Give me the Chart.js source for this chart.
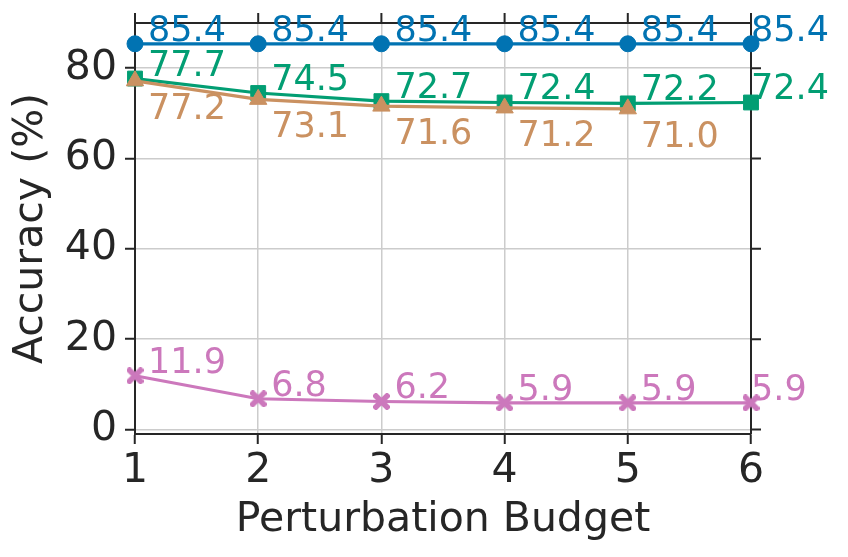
<!DOCTYPE html>
<html><head><meta charset="utf-8">
<script src="https://cdn.jsdelivr.net/npm/chart.js@4"></script>
<style>html,body{margin:0;padding:0;background:#fff}</style>
</head><body>
<canvas id="c" width="848" height="557" style="width:848px;height:557px;display:block"></canvas>
<script>
// ---- data ----
const budgets = ['1', '2', '3', '4', '5', '6'];
const blueSeries  = [85.4, 85.4, 85.4, 85.4, 85.4, 85.4];
const greenSeries = [77.7, 74.5, 72.7, 72.4, 72.2, 72.4];
const tanSeries   = [77.2, 73.1, 71.6, 71.2, 71.0];
const pinkSeries  = [11.9, 6.8, 6.2, 5.9, 5.9, 5.9];
const yTickValues = [0, 20, 40, 60, 80];
const xTitle = 'Perturbation Budget';
const yTitle = 'Accuracy (%)';

const FONT = '"DejaVu Sans", sans-serif';
const INK = '#262626';
const GRID = '#cccccc';
const C_BLUE = '#0173b2', C_GREEN = '#029e73', C_TAN = '#ca9161', C_PINK = '#cc78bc';

function xMarker(color, size, thick) {
  const c = document.createElement('canvas');
  c.width = size; c.height = size;
  const g = c.getContext('2d');
  g.translate(size / 2, size / 2);
  g.fillStyle = color;
  for (const a of [Math.PI / 4, -Math.PI / 4]) {
    g.save(); g.rotate(a); g.fillRect(-size * 0.62, -thick / 2, size * 1.24, thick); g.restore();
  }
  return c;
}

const frame = {
  id: 'frame',
  beforeDatasetsDraw(chart) {
    const {ctx, chartArea: a, scales: {x, y}} = chart;
    ctx.save();
    ctx.strokeStyle = INK; ctx.lineWidth = 2;
    ctx.beginPath();
    ctx.moveTo(a.left, a.top); ctx.lineTo(a.right, a.top); ctx.lineTo(a.right, a.bottom);
    x.ticks.forEach((t, i) => { const px = x.getPixelForTick(i); ctx.moveTo(px, a.top); ctx.lineTo(px, a.top - 10); });
    y.ticks.forEach((t, i) => { const py = y.getPixelForTick(i); ctx.moveTo(a.right, py); ctx.lineTo(a.right + 10, py); });
    ctx.stroke();
    ctx.restore();
  }
};

const valueLabels = {
  id: 'valueLabels',
  afterDatasetsDraw(chart) {
    const ctx = chart.ctx;
    ctx.save();
    ctx.font = '35px ' + FONT;
    ctx.textAlign = 'left';
    ctx.textBaseline = 'alphabetic';
    chart.data.datasets.forEach((ds, di) => {
      const meta = chart.getDatasetMeta(di);
      meta.data.forEach((pt, i) => {
        const dx = (i === budgets.length - 1) ? 0 : 13;
        const dy = ds.labelBelow ? 38 : -3;
        ctx.fillStyle = ds.borderColor;
        ctx.fillText(ds.data[i].toFixed(1), pt.x + dx, pt.y + dy);
      });
    });
    ctx.restore();
  }
};

Chart.defaults.font.family = FONT;
Chart.defaults.color = INK;

new Chart(document.getElementById('c'), {
  type: 'line',
  data: {
    labels: budgets,
    datasets: [
      {data: blueSeries, borderColor: C_BLUE, backgroundColor: C_BLUE, pointStyle: 'circle', pointRadius: 8, order: 4},
      {data: greenSeries, borderColor: C_GREEN, backgroundColor: C_GREEN, pointStyle: 'rect', pointRadius: 10.5, order: 3},
      {data: tanSeries, borderColor: C_TAN, backgroundColor: C_TAN, pointStyle: 'triangle', pointRadius: 10, order: 2, labelBelow: true},
      {data: pinkSeries, borderColor: C_PINK, backgroundColor: C_PINK, pointStyle: xMarker(C_PINK, 17, 5.5), pointRadius: 8, order: 1}
    ].map(d => Object.assign({borderWidth: 3.2, pointBorderWidth: 1, pointBorderColor: d.borderColor, tension: 0, clip: false, fill: false}, d))
  },
  options: {
    responsive: false,
    animation: false,
    devicePixelRatio: 1,
    layout: {padding: {top: 23, right: 97, left: 0, bottom: 0}},
    plugins: {legend: {display: false}, tooltip: {enabled: false}},
    scales: {
      x: {
        type: 'category',
        offset: false,
        grid: {color: GRID, lineWidth: 1.5, tickColor: INK, tickWidth: 2, tickLength: 10, offset: false},
        border: {color: INK, width: 2},
        ticks: {font: {size: 41}, color: INK, padding: 3, maxRotation: 0},
        title: {display: true, text: xTitle, font: {size: 41}, color: INK, padding: {top: 0, bottom: 12}},
        afterFit(s) { s.height = 123; s.paddingLeft = 0; s.paddingRight = 0; }
      },
      y: {
        type: 'linear',
        min: -1, max: 90,
        bounds: 'data',
        ticks: {font: {size: 41}, color: INK, padding: 8, stepSize: 20, includeBounds: false},
        afterBuildTicks(s) { s.ticks = yTickValues.map(v => ({value: v})); },
        grid: {color: GRID, lineWidth: 1.5, tickColor: INK, tickWidth: 2, tickLength: 10},
        border: {color: INK, width: 2},
        title: {display: true, text: yTitle, font: {size: 41}, color: INK, padding: {top: 7, bottom: 0}},
        afterFit(s) { s.width = 135; s.paddingTop = 0; s.paddingBottom = 0; }
      }
    }
  },
  plugins: [frame, valueLabels]
});
</script>
</body></html>
